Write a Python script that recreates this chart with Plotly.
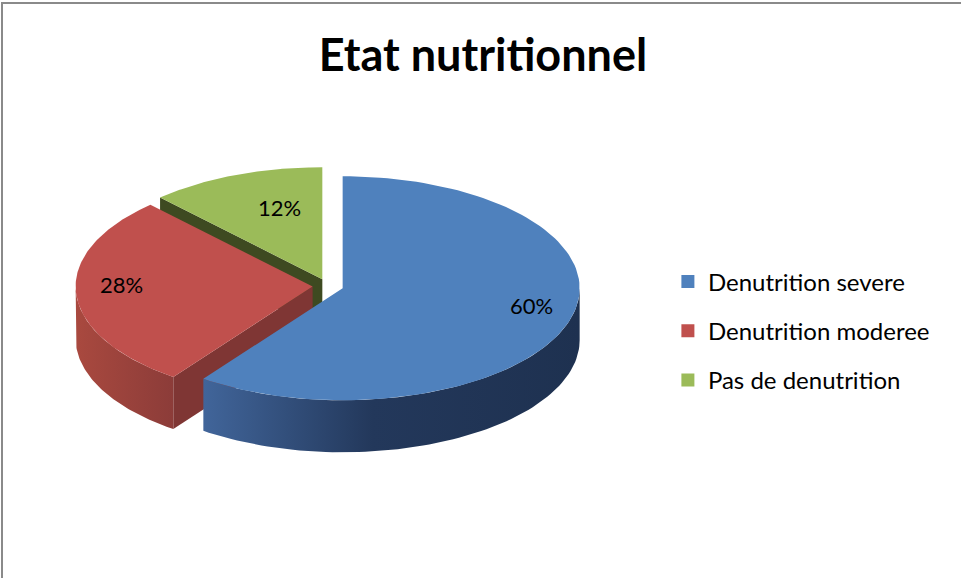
import numpy as np
import plotly.graph_objects as go

# ---- data ----
categories = ["Denutrition severe", "Denutrition moderee", "Pas de denutrition"]
values = [60, 28, 12]
title_text = "Etat nutritionnel"

# ---- style ----
top_colors = ["#4F81BD", "#C0504D", "#9BBB59"]
wall_scales = [
    [[0, "#41659A"], [0.45, "#23385B"], [1, "#1E3150"]],
    [[0, "#A9493F"], [1, "#8C3C39"]],
    [[0, "#5E7030"], [1, "#4A5826"]],
]
radial_colors = ["#2A4468", "#7F3634", "#3E4A21"]
label_r = [0.84, 0.81, 0.49]
label_dy = [-12, -8, -21]

W, H = 961, 578
CX, CY = 328, 286
RX, RY = 237, 112
DEPTH = 52
EXPLODE = 0.065
FONT = "Lato"

total = float(sum(values))
fracs = [v / total for v in values]
starts = np.concatenate([[0], np.cumsum(fracs)[:-1]]) * 2 * np.pi
ends = np.cumsum(fracs) * 2 * np.pi
mids = (starts + ends) / 2


def pt(cx, cy, phi, k=1.0):
    return cx + k * RX * np.sin(phi), cy - k * RY * np.cos(phi)


fig = go.Figure()
order = sorted(range(len(values)), key=lambda i: -np.cos(mids[i]))
annotations = []
for i in order:
    a, b, m = starts[i], ends[i], mids[i]
    cx = CX + EXPLODE * RX * np.sin(m)
    cy = CY - EXPLODE * RY * np.cos(m)
    for edge, nrm in ((a, a - np.pi / 2), (b, b + np.pi / 2)):
        if np.cos(nrm) < -1e-6:
            ex, ey = pt(cx, cy, edge)
            fig.add_trace(go.Scatter(
                x=[cx, ex, ex, cx, cx], y=[cy, ey, ey + DEPTH, cy + DEPTH, cy],
                fill="toself", mode="lines", line=dict(width=0),
                fillcolor=radial_colors[i], showlegend=False, hoverinfo="skip"))
    lo, hi = max(a, np.pi / 2), min(b, 3 * np.pi / 2)
    if hi > lo:
        ph = np.linspace(lo, hi, 80)
        xs, ys = pt(cx, cy, ph)
        px = np.concatenate([xs, xs[::-1], xs[:1]])
        py = np.concatenate([ys, ys[::-1] + DEPTH, ys[:1]])
        fig.add_trace(go.Scatter(
            x=px, y=py, fill="toself", mode="lines", line=dict(width=0),
            fillgradient=dict(type="horizontal", colorscale=wall_scales[i]),
            showlegend=False, hoverinfo="skip"))
    ph = np.linspace(a, b, 120)
    xs, ys = pt(cx, cy, ph)
    fig.add_trace(go.Scatter(
        x=np.concatenate([[cx], xs, [cx]]), y=np.concatenate([[cy], ys, [cy]]),
        fill="toself", mode="lines", line=dict(width=0),
        fillcolor=top_colors[i], showlegend=False, hoverinfo="skip"))
    lx, ly = pt(cx, cy, m, label_r[i])
    annotations.append(dict(x=lx, y=ly + label_dy[i], xref="x", yref="y",
                            text=f"{round(fracs[i] * 100)}%", showarrow=False,
                            font=dict(family=FONT, size=22, color="black")))

for i, c in enumerate(categories):
    fig.add_trace(go.Scatter(
        x=[None], y=[None], mode="markers", name=c,
        marker=dict(symbol="square", size=13, color=top_colors[i]),
        legendgroup=c, showlegend=True))

fig.update_layout(
    width=W, height=H,
    margin=dict(l=0, r=0, t=0, b=0),
    paper_bgcolor="white", plot_bgcolor="white",
    xaxis=dict(range=[0, W], visible=False, fixedrange=True, domain=[0, 1]),
    yaxis=dict(range=[H, 0], visible=False, fixedrange=True, domain=[0, 1]),
    title=dict(text=f"<b>{title_text}</b>", x=483 / W, xanchor="center",
               y=1 - 55 / H, yanchor="middle", yref="container",
               font=dict(family=FONT, size=45, color="black")),
    legend=dict(x=0.695, xanchor="left", y=1 - 331 / H, yanchor="middle",
                font=dict(family=FONT, size=24, color="black"),
                tracegroupgap=15, bgcolor="rgba(0,0,0,0)"),
    annotations=annotations,
    shapes=[dict(type="rect", xref="paper", yref="paper",
                 x0=2 / W, x1=1.05, y0=-0.05, y1=1 - 3 / H,
                 line=dict(color="#8A8A8A", width=2))],
    showlegend=True,
)

fig.write_html(
    "out.html",
    config={"displayModeBar": False},
    post_script="document.body.style.margin='0';document.body.style.overflow='hidden';",
)
